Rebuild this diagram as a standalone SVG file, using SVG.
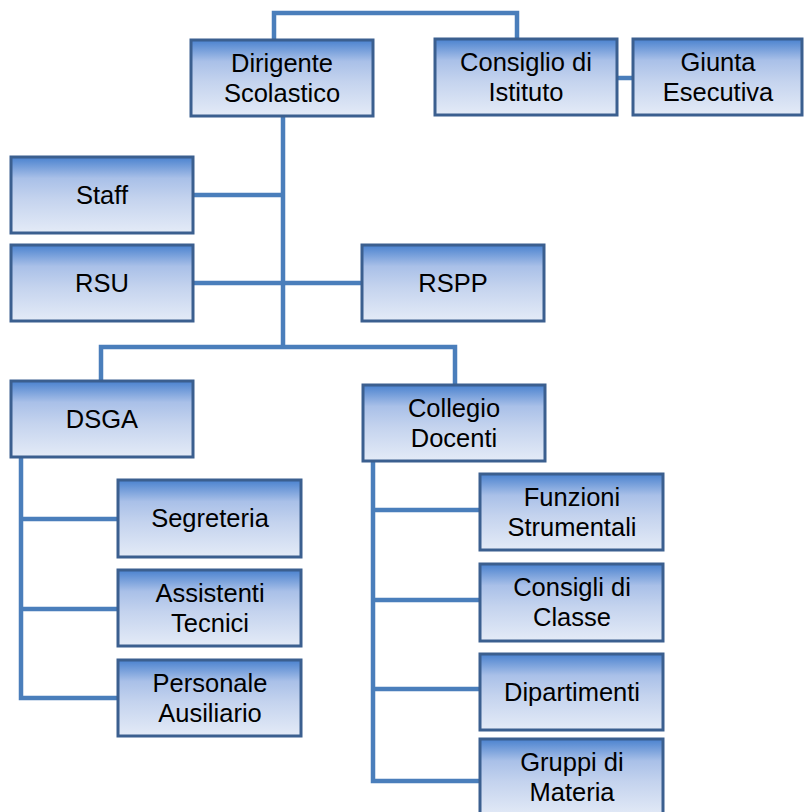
<svg xmlns="http://www.w3.org/2000/svg" width="804" height="812" viewBox="0 0 804 812">
<defs>
<linearGradient id="g" x1="0" y1="0" x2="0" y2="1">
<stop offset="0" stop-color="#4a82cf"/>
<stop offset="0.28" stop-color="#a9c0e8"/>
<stop offset="0.55" stop-color="#c4d3ee"/>
<stop offset="1" stop-color="#e4ebf7"/>
</linearGradient>
<style>
.box{fill:url(#g);stroke:#3b5f8f;stroke-width:3}
.t{font-family:"Liberation Sans",Arial,sans-serif;font-size:25.5px;fill:#000;text-anchor:middle}
.c{fill:none;stroke:#4a7ebb;stroke-width:4.5}
</style>
</defs>
<rect width="804" height="812" fill="#fff"/>
<g id="connectors">
<path class="c" d="M274 40 V13 H517 V39"/>
<path class="c" d="M617 78 H633"/>
<path class="c" d="M283 116 V347"/>
<path class="c" d="M193 195 H283"/>
<path class="c" d="M193 283 H362"/>
<path class="c" d="M101 382 V347 H455 V385"/>
<path class="c" d="M21 457 V698 H118 M21 519 H118 M21 609 H118"/>
<path class="c" d="M373 461 V781 H480 M373 510 H480 M373 600 H480 M373 689 H480"/>
</g>
<g id="dirigente"><rect class="box" x="191" y="40" width="182" height="76"/><text class="t" x="282" y="72">Dirigente</text><text class="t" x="282" y="102">Scolastico</text></g>
<g id="consiglio"><rect class="box" x="435" y="39" width="182" height="76"/><text class="t" x="526" y="71">Consiglio di</text><text class="t" x="526" y="101">Istituto</text></g>
<g id="giunta"><rect class="box" x="633" y="39" width="169" height="76"/><text class="t" x="718" y="71">Giunta</text><text class="t" x="718" y="101">Esecutiva</text></g>
<g id="staff"><rect class="box" x="11" y="157" width="182" height="76"/><text class="t" x="102" y="204">Staff</text></g>
<g id="rsu"><rect class="box" x="11" y="245" width="182" height="76"/><text class="t" x="102" y="292">RSU</text></g>
<g id="rspp"><rect class="box" x="362" y="245" width="182" height="76"/><text class="t" x="453" y="292">RSPP</text></g>
<g id="dsga"><rect class="box" x="11" y="381" width="182" height="76"/><text class="t" x="102" y="428">DSGA</text></g>
<g id="collegio"><rect class="box" x="363" y="385" width="182" height="76"/><text class="t" x="454" y="417">Collegio</text><text class="t" x="454" y="447">Docenti</text></g>
<g id="segreteria"><rect class="box" x="118" y="480" width="183" height="77"/><text class="t" x="210" y="527">Segreteria</text></g>
<g id="assistenti"><rect class="box" x="118" y="570" width="183" height="76"/><text class="t" x="210" y="602">Assistenti</text><text class="t" x="210" y="632">Tecnici</text></g>
<g id="personale"><rect class="box" x="118" y="660" width="183" height="76"/><text class="t" x="210" y="692">Personale</text><text class="t" x="210" y="722">Ausiliario</text></g>
<g id="funzioni"><rect class="box" x="480" y="474" width="183" height="76"/><text class="t" x="572" y="506">Funzioni</text><text class="t" x="572" y="536">Strumentali</text></g>
<g id="consigli"><rect class="box" x="480" y="564" width="183" height="77"/><text class="t" x="572" y="596">Consigli di</text><text class="t" x="572" y="626">Classe</text></g>
<g id="dipartimenti"><rect class="box" x="480" y="654" width="183" height="76"/><text class="t" x="572" y="701">Dipartimenti</text></g>
<g id="gruppi"><rect class="box" x="480" y="739" width="183" height="78"/><text class="t" x="572" y="771">Gruppi di</text><text class="t" x="572" y="801">Materia</text></g>
</svg>
